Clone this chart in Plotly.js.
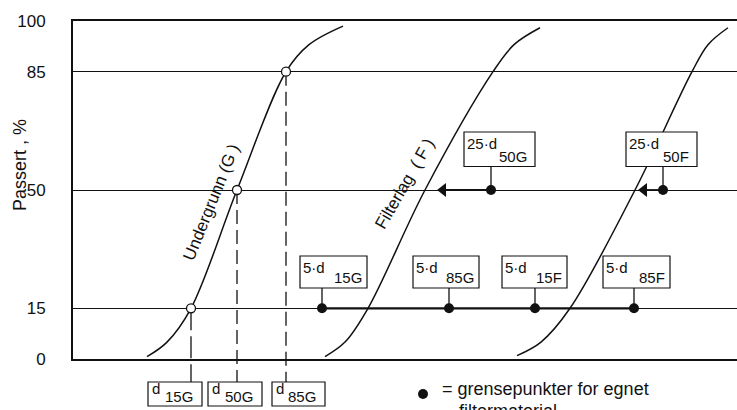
<!DOCTYPE html>
<html><head><meta charset="utf-8">
<script src="https://cdn.plot.ly/plotly-3.0.1.min.js"></script>
<style>html,body{margin:0;padding:0;background:#fff;}#chart{width:737px;height:410px;}</style>
</head><body><div id="chart"></div>
<script>
// ---- data (x = relative grain size position, y = passing %) ----
const yTickVals = [0, 15, 50, 85, 100];
const yTickText = ['0', '15', '50', '85', '100'];

const curveGx = [147, 167, 191, 237, 286, 309, 343];
const curveGy = [0.7, 5, 15, 50, 85, 93, 98.5];
const curveFx = [325, 345, 368, 425, 493, 514, 540];
const curveFy = [0.7, 5, 15, 50, 85, 93, 98];
const curve3x = [517, 541, 570, 635, 692, 708, 728];
const curve3y = [1, 5, 15, 50, 85, 93, 98];

// d15G, d50G, d85G on the subsoil curve
const dPointX = [191, 237, 286];
const dPointY = [15, 50, 85];
const dLabels = ['15G', '50G', '85G'];

// limit points on the 15 % line
const lowDotX = [322, 449, 535, 634];
const lowLabelsMain = ['5·d', '5·d', '5·d', '5·d'];
const lowLabelsSub = ['15G', '85G', '15F', '85F'];
// limit points on the 50 % line
const upDotX = [491, 663];
const upLabelsMain = ['25·d', '25·d'];
const upLabelsSub = ['50G', '50F'];
const arrowX = [443, 644];

// ---- pixel helpers (plot area: x 73..737, y 21..359) ----
const L = 73, T = 21, W = 664, H = 338;
const pct = py => (359 - py) / H * 100;
const pY = py => (359 - py) / H;
const pX = px => (px - L) / W;

const ink = '#111';
const FONT = 'Liberation Sans, Arial, sans-serif';

// layout-only box geometry (pixels)
const lowBoxes = [[300, 367], [413, 479], [502, 567], [603, 670]];
const lowBoxY = [256, 288];
const upBoxes = [[464, 535], [626, 697]];
const upBoxY = [132, 166.5];
const botBoxes = [[148, 202], [208, 262], [272, 325]];
const botBoxY = [382, 406];

const traces = [];
const curve = (x, y) => ({x, y, mode: 'lines', line: {color: ink, width: 1.5, shape: 'spline', smoothing: 1}, hoverinfo: 'skip'});
traces.push(curve(curveGx, curveGy), curve(curveFx, curveFy), curve(curve3x, curve3y));

// bold segments
traces.push({x: [lowDotX[0], lowDotX[lowDotX.length - 1]], y: [15, 15], mode: 'lines', line: {color: ink, width: 2.2}});
arrowX.forEach((ax, i) => traces.push({x: [ax, upDotX[i]], y: [50, 50], mode: 'lines', line: {color: ink, width: 1.8}}));

// arrows
traces.push({x: arrowX, y: arrowX.map(() => 50), mode: 'markers', marker: {symbol: 'triangle-left', size: 12, color: ink}});
// filled limit points
traces.push({x: lowDotX.concat(upDotX), y: lowDotX.map(() => 15).concat(upDotX.map(() => 50)), mode: 'markers', marker: {symbol: 'circle', size: 10, color: ink}});
// open points
traces.push({x: dPointX, y: dPointY, mode: 'markers', marker: {symbol: 'circle', size: 9, color: '#fff', line: {color: ink, width: 1.3}}, cliponaxis: false});

const shapes = [];
const annotations = [];

// dashed verticals from d-points down to boxes
dPointX.forEach((x, i) => {
  shapes.push({type: 'line', xref: 'x', yref: 'paper', x0: x, x1: x, y0: dPointY[i] / 100, y1: pY(botBoxY[0]), line: {color: ink, width: 1.3, dash: i === 0 ? '22px,6px' : '14px,6px'}, layer: 'below'});
});

// stems from dots to boxes
lowDotX.forEach(x => shapes.push({type: 'line', xref: 'x', yref: 'y', x0: x, x1: x, y0: 15, y1: pct(lowBoxY[1]), line: {color: ink, width: 1.3}}));
upDotX.forEach(x => shapes.push({type: 'line', xref: 'x', yref: 'y', x0: x, x1: x, y0: 50, y1: pct(upBoxY[1]), line: {color: ink, width: 1.3}}));

function box(b, by, main, sub, mainDx, mainDy, subDx, subDy, fs) {
  shapes.push({type: 'rect', xref: 'paper', yref: 'paper', x0: pX(b[0]), x1: pX(b[1]), y0: pY(by[0]), y1: pY(by[1]), fillcolor: '#ffffff', opacity: 1, line: {color: ink, width: 1.2}, layer: 'above'});
  annotations.push({xref: 'paper', yref: 'paper', x: pX(b[0] + mainDx), y: pY(by[0] + mainDy), xanchor: 'left', yanchor: 'top', text: main, showarrow: false, font: {family: FONT, size: fs, color: ink}, borderpad: 0});
  annotations.push({xref: 'paper', yref: 'paper', x: pX(b[1] - subDx), y: pY(by[1] + subDy), xanchor: 'right', yanchor: 'bottom', text: sub, showarrow: false, font: {family: FONT, size: fs, color: ink}, borderpad: 0});
}
lowBoxes.forEach((b, i) => box(b, lowBoxY, lowLabelsMain[i], lowLabelsSub[i], 2, 2, 4, -1, 15));
upBoxes.forEach((b, i) => box(b, upBoxY, upLabelsMain[i], upLabelsSub[i], 2, 2, 7, -1, 15));
botBoxes.forEach((b, i) => box(b, botBoxY, 'd', dLabels[i], 3, -3, 8, 0, 15));

// curve labels
annotations.push({xref: 'x', yref: 'y', x: 211, y: pct(202), xanchor: 'center', yanchor: 'middle', text: 'Undergrunn (G )', textangle: -68, showarrow: false, font: {family: FONT, size: 17, color: ink}});
annotations.push({xref: 'x', yref: 'y', x: 404, y: pct(184), xanchor: 'center', yanchor: 'middle', text: 'Filterlag  ( F )', textangle: -60, showarrow: false, font: {family: FONT, size: 17, color: ink}});

// y title
annotations.push({xref: 'paper', yref: 'paper', x: pX(20), y: pY(165), xanchor: 'center', yanchor: 'middle', text: 'Passert , %', textangle: -90, showarrow: false, font: {family: FONT, size: 18, color: ink}});

// key
shapes.push({type: 'circle', xref: 'paper', yref: 'paper', x0: pX(418), x1: pX(428), y0: pY(389), y1: pY(399), fillcolor: ink, line: {color: ink, width: 0}});
annotations.push({xref: 'paper', yref: 'paper', x: pX(441), y: pY(400), xanchor: 'left', yanchor: 'bottom', text: '= grensepunkter for egnet', showarrow: false, font: {family: FONT, size: 18, color: ink}, borderpad: 0});
annotations.push({xref: 'paper', yref: 'paper', x: pX(458), y: pY(400.5), xanchor: 'left', yanchor: 'top', text: 'filtermaterial', showarrow: false, font: {family: FONT, size: 18, color: ink}, borderpad: 0});

const layout = {
  width: 737, height: 410,
  margin: {l: L, r: 0, t: T, b: 410 - 359},
  paper_bgcolor: '#fff', plot_bgcolor: '#fff',
  showlegend: false,
  font: {family: FONT, color: ink},
  xaxis: {range: [L, 737], showticklabels: false, showgrid: false, zeroline: false, ticks: '', showline: true, mirror: true, linecolor: ink, linewidth: 2, fixedrange: true},
  yaxis: {range: [0, 100], tickvals: yTickVals, ticktext: yTickText, showgrid: true, gridcolor: ink, gridwidth: 1, zeroline: false, ticks: '', showline: true, linecolor: ink, linewidth: 2, ticklabelstandoff: 22, tickfont: {family: FONT, size: 17, color: ink}, fixedrange: true},
  shapes, annotations
};
Plotly.newPlot('chart', traces, layout, {staticPlot: true, displayModeBar: false});
</script></body></html>
